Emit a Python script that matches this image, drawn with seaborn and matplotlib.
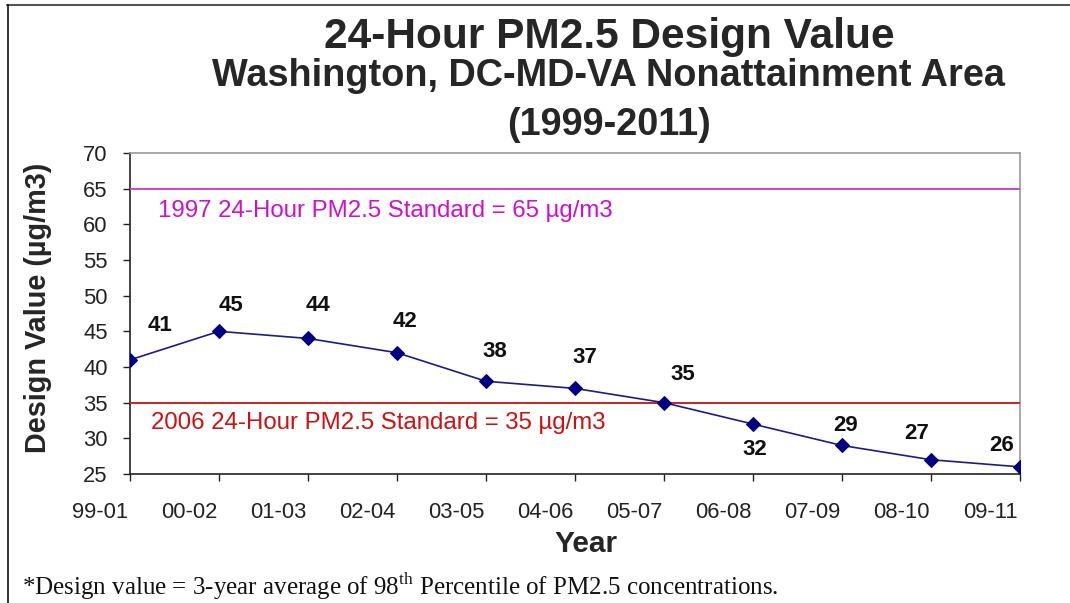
import matplotlib
matplotlib.use("Agg")
import matplotlib.pyplot as plt
import matplotlib.transforms as mtransforms
from matplotlib.lines import Line2D
import seaborn as sns
import pandas as pd

# ---- data ----
periods = ["99-01", "00-02", "01-03", "02-04", "03-05", "04-06",
           "05-07", "06-08", "07-09", "08-10", "09-11"]
design_values = [41, 45, 44, 42, 38, 37, 35, 32, 29, 27, 26]
std_1997 = 65
std_2006 = 35
y_ticks = [25, 30, 35, 40, 45, 50, 55, 60, 65, 70]

# label offsets in pixels (style only)
label_offsets = [(30, 34), (12, 26), (10, 33), (8, 31), (9, 30), (10, 31),
                 (19, 28), (2, -25), (4, 20), (-14, 26), (-18, 21)]

sns.set_style("white")
plt.rcParams["font.family"] = ["Liberation Sans", "DejaVu Sans"]
plt.rcParams["mathtext.fontset"] = "custom"
plt.rcParams["mathtext.rm"] = "Liberation Serif"

fig = plt.figure(figsize=(10.70, 6.03), dpi=100)
W, H = 1070, 603
ax = fig.add_axes([130 / W, 1 - 474 / H, 890 / W, 321 / H])

df = pd.DataFrame({"x": range(len(periods)), "v": design_values})
sns.lineplot(data=df, x="x", y="v", ax=ax, color="#1c1c86", lw=1.2,
             marker="D", markersize=7, markerfacecolor="#000080",
             markeredgecolor="#000080", zorder=5)

ax.axhline(std_1997, color="#cc44cc", lw=1.4, zorder=3)
ax.axhline(std_2006, color="#cc2222", lw=1.4, zorder=3)

blend = mtransforms.blended_transform_factory(ax.transAxes, ax.transData)
ax.annotate(f"1997 24-Hour PM2.5 Standard = {std_1997} µg/m3",
            xy=(0.031, std_1997), xycoords=blend, xytext=(0, -22),
            textcoords="offset pixels", ha="left", va="center",
            fontsize=17.3, color="#cc11cc")
ax.annotate(f"2006 24-Hour PM2.5 Standard = {std_2006} µg/m3",
            xy=(0.024, std_2006), xycoords=blend, xytext=(0, -20),
            textcoords="offset pixels", ha="left", va="center",
            fontsize=17.3, color="#cc1111")

for i, (v, off) in enumerate(zip(design_values, label_offsets)):
    ax.annotate(str(v), xy=(i, v), xytext=off, textcoords="offset pixels",
                ha="center", va="center", fontsize=16, fontweight="bold",
                color="#111111")

ax.set_xlim(0, len(periods) - 1)
ax.set_ylim(y_ticks[0], y_ticks[-1])
ax.set_xticks(range(len(periods)))
ax.set_xticklabels(periods)
ax.set_yticks(y_ticks)
ax.tick_params(axis="both", which="both", direction="out", length=5,
               width=1, color="#222222", labelsize=15.8, labelcolor="#222222")
ax.tick_params(axis="y", pad=11, left=True)
ax.tick_params(axis="x", pad=15, bottom=True)

# x tick labels sit left of their ticks in the reference
shift = mtransforms.ScaledTranslation(-30 / 100, 0, fig.dpi_scale_trans)
for lab in ax.get_xticklabels():
    lab.set_transform(lab.get_transform() + shift)

for s in ["left", "bottom"]:
    ax.spines[s].set_color("#222222")
    ax.spines[s].set_linewidth(1.2)
for s in ["top", "right"]:
    ax.spines[s].set_color("#999999")
    ax.spines[s].set_linewidth(1.2)

ax.set_xlabel("Year", fontsize=21.5, fontweight="bold", va="center")
ax.xaxis.set_label_coords((586 - 130) / 890, (474 - 544) / 321)
ax.set_ylabel("Design Value (µg/m3)", fontsize=20.8, fontweight="bold",
              va="center", ha="center")
ax.yaxis.set_label_coords((38 - 130) / 890, (474 - 308) / 321)

cx = 609 / W
fig.text(cx, 1 - 48 / H, "24-Hour PM2.5 Design Value", ha="center",
         va="baseline", fontsize=30.5, fontweight="bold")
fig.text(cx, 1 - 86 / H, "Washington, DC-MD-VA Nonattainment Area",
         ha="center", va="baseline", fontsize=27.3, fontweight="bold")
fig.text(cx, 1 - 135 / H, "(1999-2011)", ha="center", va="baseline",
         fontsize=27.3, fontweight="bold")

fig.text(22 / W, 1 - 595 / H,
         r"*Design value = 3-year average of 98$^{\mathrm{th}}$ Percentile of PM2.5 concentrations.",
         ha="left", va="baseline", fontsize=18,
         family=["Liberation Serif", "DejaVu Serif"], color="#111111")

# outer frame
fig.add_artist(Line2D([7 / W, 1], [1 - 5 / H, 1 - 5 / H],
                      transform=fig.transFigure, color="#555555", lw=1.5))
fig.add_artist(Line2D([8 / W, 8 / W], [1 - 5 / H, 0],
                      transform=fig.transFigure, color="#111111", lw=1.2))

fig.savefig("out.png", dpi=100)
